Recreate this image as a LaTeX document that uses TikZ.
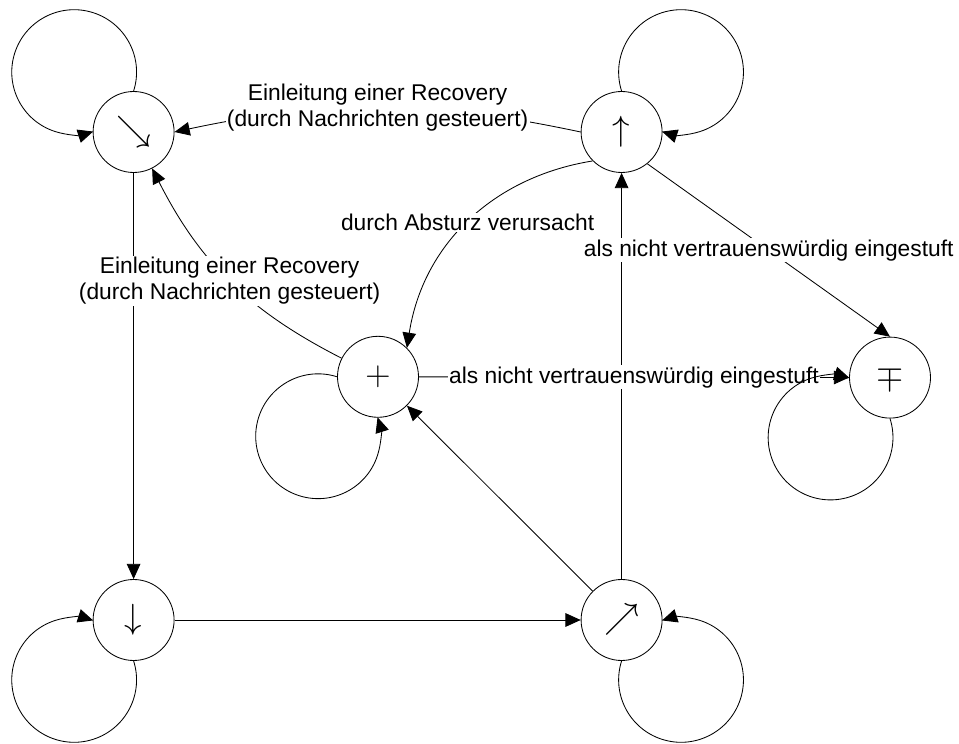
\documentclass[tikz,border=0pt]{standalone}
\usepackage{fontspec}
\setmainfont{Liberation Sans}
\usetikzlibrary{arrows.meta}

\begin{document}
\begin{tikzpicture}[line width=0.6pt, >={Triangle[length=0.38cm,width=0.34cm]},
  state/.style={draw, circle, minimum size=2.025cm, inner sep=0pt, font=\fontsize{26}{26}\selectfont},
  lbl/.style={fill=white, inner sep=1pt, align=center, font=\fontsize{16.2}{18.5}\selectfont}]
\useasboundingbox (0,0) rectangle (23.975,-18.6);

\node[state] (nd)  at (3.34,-3.3)   {$\searrow$};
\node[state] (nu)  at (15.54,-3.3)  {$\uparrow$};
\node[state] (np)  at (9.45,-9.42)  {$+$};
\node[state] (nm)  at (22.25,-9.44) {$\mp$};
\node[state] (ndn) at (3.34,-15.5)  {$\downarrow$};
\node[state] (nne) at (15.54,-15.5) {$\nearrow$};

\draw[->] (nd) -- (ndn);
\draw[->] (ndn) -- (nne);
\draw[->] (nne) -- (nu);
\draw[->] (nne) -- (np);

\draw[->] (nu.west) to[bend right=12] node[lbl]{Einleitung einer Recovery\\(durch Nachrichten gesteuert)} (nd.east);
\draw[->] (np) to[bend left=18] node[lbl]{Einleitung einer Recovery\\(durch Nachrichten gesteuert)} (nd);
\draw[->] (nu.south west) to[bend right=36] node[lbl]{durch Absturz verursacht} (np.north east);
\draw[->] (nu.-51) -- node[lbl]{als nicht vertrauenswürdig eingestuft} (nm.north);
\draw[->] (np) -- node[lbl]{als nicht vertrauenswürdig eingestuft} (nm);

% loops
\draw[->] (nd.north)  arc[start angle=-17.7, end angle=287.7, radius=1.56];
\draw[->] (nu.north)  arc[start angle=197.7, end angle=-107.7, radius=1.56];
\draw[->] (np.west)   arc[start angle=72.3, end angle=377.7, radius=1.56];
\draw[->] (nm.south)  arc[start angle=17.7, end angle=-287.7, radius=1.56];
\draw[->] (ndn.south) arc[start angle=17.7, end angle=-287.7, radius=1.56];
\draw[->] (nne.south) arc[start angle=162.3, end angle=467.7, radius=1.56];
\end{tikzpicture}
\end{document}
